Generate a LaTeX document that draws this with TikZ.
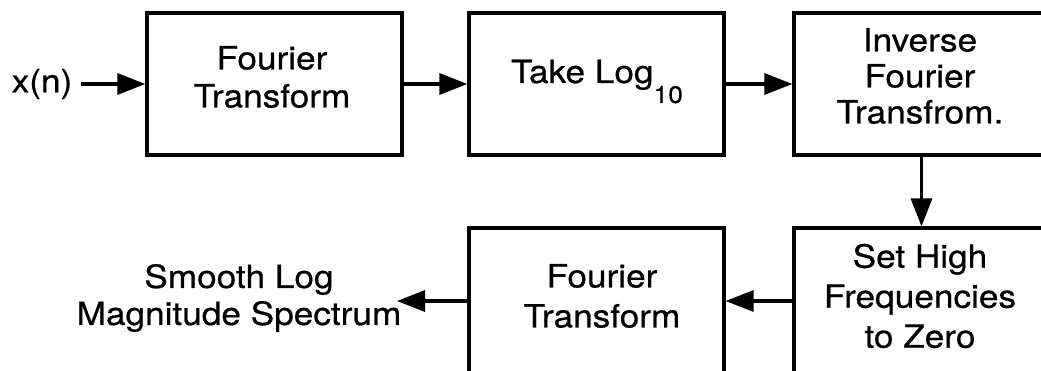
\documentclass[tikz,border=0pt]{standalone}
\usepackage{fontspec}
\setmainfont{TeX Gyre Heros}[FakeStretch=1.1,FakeBold=0.6]
\usetikzlibrary{arrows.meta}
\begin{document}
\begin{tikzpicture}[x=1pt,y=-1pt,
  blk/.style={draw=black, line width=3.2pt, minimum width=255pt, minimum height=142pt, inner sep=0pt},
  lbl/.style={font=\fontsize{32}{38}\selectfont, align=center, inner sep=0pt, text=black},
  arr/.style={line width=3.2pt, -{Triangle[length=28pt,width=21pt]}}]
\useasboundingbox (0,0) rectangle (1041,371);
\clip (0,0) rectangle (1041,371);
% boxes
\node[blk] (b1) at (274.5,84) {};
\node[blk] (b2) at (596.5,84) {};
\node[blk] (b3) at (921.5,84) {};
\node[blk, minimum height=146pt] (b4) at (921.5,301) {};
\node[blk, minimum height=146pt] (b5) at (596.5,301) {};
% labels
\node[lbl] (xn) at (42,84) {x(n)};
\node[lbl] (t1) at (272,77) {Fourier\\Transform};
\node[lbl, anchor=base] (t2) at (597,83) {Take Log\raisebox{-20pt}{\fontsize{24}{24}\selectfont 10}};
\node[lbl, font=\fontsize{32}{36}\selectfont] (t3) at (920,76) {Inverse\\Fourier\\Transfrom.};
\node[lbl, font=\fontsize{32}{40}\selectfont] (t4) at (920,296) {Set High\\Frequencies\\to Zero};
\node[lbl, font=\fontsize{32}{40}\selectfont] (t5) at (602,296) {Fourier\\Transform};
\node[lbl, font=\fontsize{32}{37}\selectfont] (t6) at (239,298) {Smooth Log\\Magnitude Spectrum};
\coordinate (out) at (397,301);
% connectors
\draw[arr] ([xshift=8pt]xn.east) -- (b1.west);
\draw[arr] (b1.east) -- (b2.west);
\draw[arr] (b2.east) -- (b3.west);
\draw[arr] (b3.south) -- (b4.north);
\draw[arr] (b4.west) -- (b5.east);
\draw[arr] (b5.west) -- (out);
\end{tikzpicture}
\end{document}
